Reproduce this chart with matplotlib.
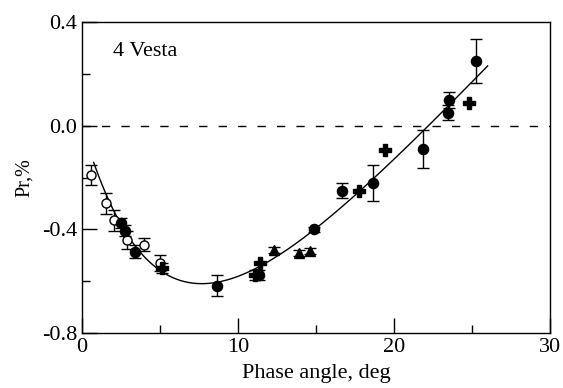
import matplotlib
matplotlib.use("Agg")
import matplotlib.pyplot as plt
import numpy as np
from matplotlib.ticker import MultipleLocator, FuncFormatter

plt.rcParams['font.family'] = ['Liberation Serif', 'DejaVu Serif']
plt.rcParams['axes.unicode_minus'] = False

# open circles
open_x = [0.6, 1.55, 2.07, 2.88, 4.0, 4.98]
open_y = [-0.19, -0.30, -0.365, -0.44, -0.46, -0.53]
open_err = [0.04, 0.04, 0.04, 0.035, 0.025, 0.03]

# filled circles
fill_x = [2.5, 2.78, 3.38, 8.67, 11.37, 14.85, 16.67, 18.67, 21.88, 23.44, 23.55, 25.28]
fill_y = [-0.375, -0.405, -0.487, -0.617, -0.577, -0.40, -0.25, -0.22, -0.09, 0.051, 0.099, 0.249]
fill_err = [0.02, 0.02, 0.025, 0.04, 0.02, 0.01, 0.03, 0.07, 0.075, 0.03, 0.03, 0.085]

# crosses
cross_x = [5.13, 11.1, 11.4, 17.76, 19.4, 24.8]
cross_y = [-0.55, -0.575, -0.53, -0.253, -0.092, 0.088]
cross_err = [0.02, 0.02, 0.0, 0.0, 0.0, 0.0]

# triangles
tri_x = [12.33, 13.9, 14.6]
tri_y = [-0.48, -0.49, -0.483]
tri_err = [0.012, 0.012, 0.012]

# linear-exponential fit parameters
fit_a, fit_d, fit_b = 1.436, 5.3, 0.0637
fit_range = (0.75, 26.0)

fig = plt.figure(figsize=(5.63, 3.88), dpi=100)
ax = fig.add_axes([0.1456, 0.1418, 0.977 - 0.1456, 0.943 - 0.1418])

alpha = np.linspace(fit_range[0], fit_range[1], 300)
ax.plot(alpha, fit_a * (np.exp(-alpha / fit_d) - 1) + fit_b * alpha, color='black', lw=1.0)
ax.axhline(0.0, color='black', lw=1.0, dashes=(6, 8))

eb = dict(ecolor='black', elinewidth=1.0, capsize=4, capthick=1.0, linestyle='none')
ax.errorbar(open_x, open_y, yerr=open_err, marker='o', ms=6.5, mfc='white', mec='black', mew=1.0, **eb)
ax.errorbar(fill_x, fill_y, yerr=fill_err, marker='o', ms=7.3, mfc='black', mec='black', **eb)
ax.errorbar(cross_x, cross_y, yerr=cross_err, marker='P', ms=8, mfc='black', mec='black', **eb)
ax.errorbar(tri_x, tri_y, yerr=tri_err, marker='^', ms=7.5, mfc='black', mec='black', **eb)

ax.text(2.0, 0.285, '4 Vesta', fontsize=16, va='center', ha='left')

ax.set_xlim(0, 30)
ax.set_ylim(-0.8, 0.4)
ax.xaxis.set_major_locator(MultipleLocator(10))
ax.xaxis.set_minor_locator(MultipleLocator(5))
ax.yaxis.set_major_locator(MultipleLocator(0.4))
ax.yaxis.set_minor_locator(MultipleLocator(0.2))
ax.yaxis.set_major_formatter(FuncFormatter(lambda v, p: '%.1f' % v))
ax.tick_params(which='both', direction='in', top=False, right=False, labelsize=16, width=1.0)
ax.tick_params(which='major', length=11)
ax.tick_params(which='minor', length=5.5)
for s in ax.spines.values():
    s.set_linewidth(1.0)

ax.set_xlabel('Phase angle, deg', fontsize=16, labelpad=5)
ax.set_ylabel('Pr,%', fontsize=14.5, labelpad=6)

fig.savefig('out.png', dpi=100)
